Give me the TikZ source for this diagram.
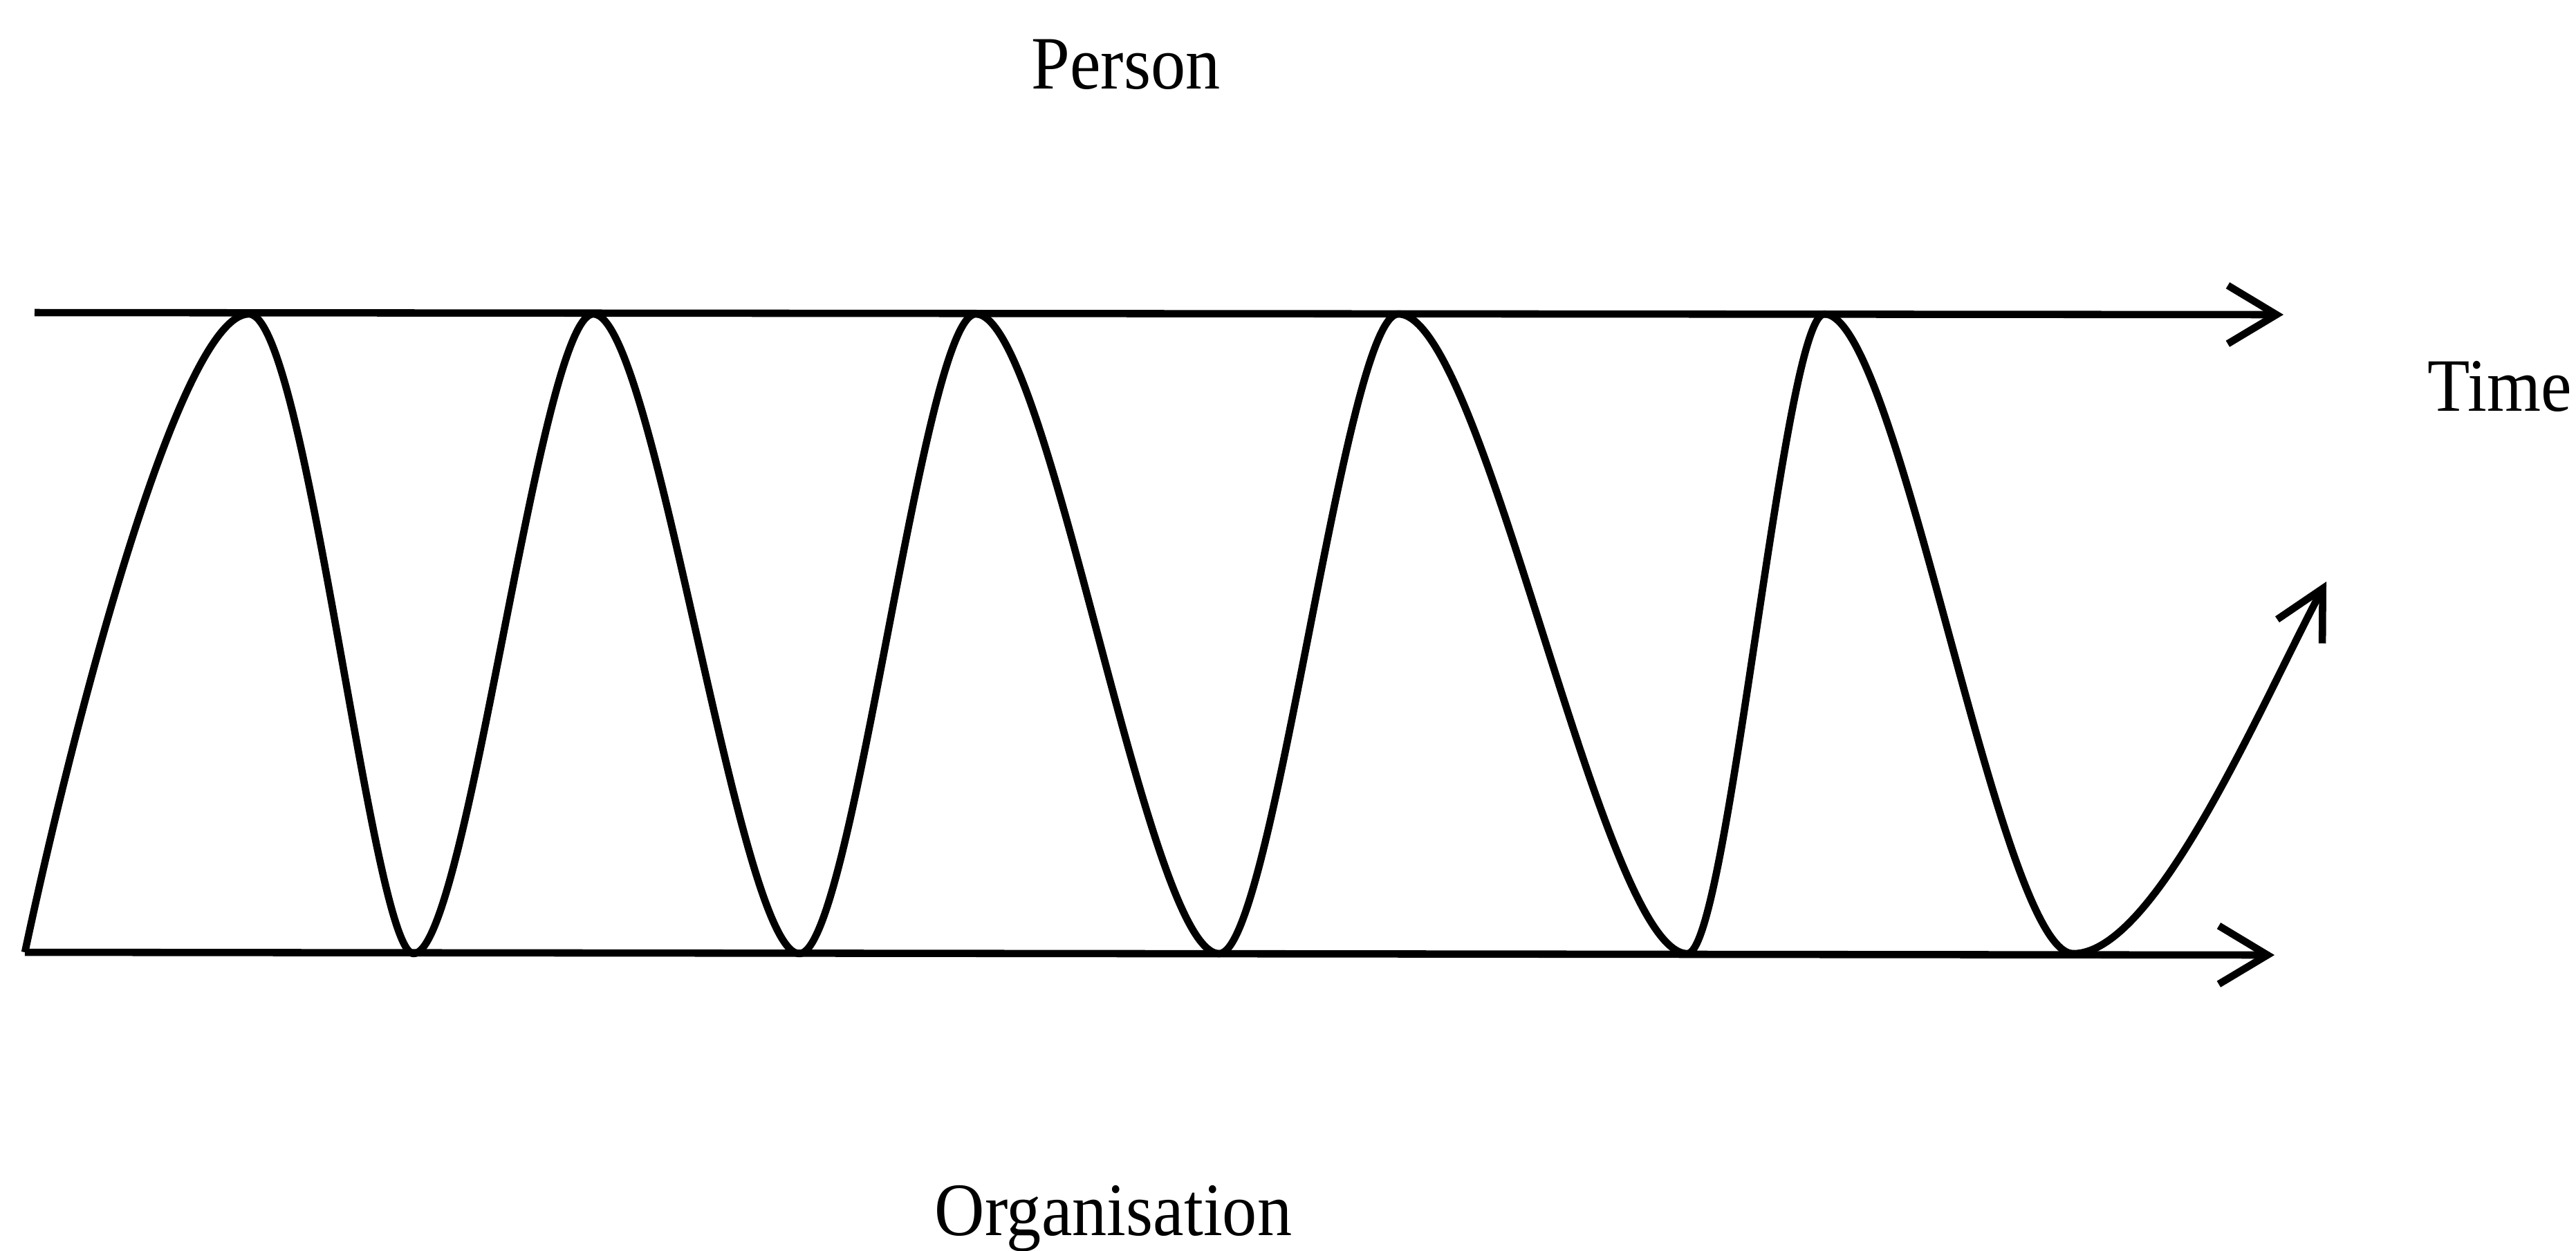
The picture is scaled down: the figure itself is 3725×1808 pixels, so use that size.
\documentclass[tikz,border=0pt]{standalone}
\usepackage{fontspec}
\setmainfont{Liberation Serif}
\newfontfamily\lblfont[FakeStretch=0.92]{Liberation Serif}
\usetikzlibrary{arrows.meta}
\begin{document}
\begin{tikzpicture}[x=0.01cm,y=-0.01cm,
  axisline/.style={line width=3pt,-{Straight Barb[length=20pt,width=24pt,line width=3pt]}},
  wave/.style={line width=3pt,line join=round},
  lbl/.style={inner sep=0pt,font=\lblfont\fontsize{31}{36}\selectfont}]
\useasboundingbox (0,0) rectangle (3725,1808);
% coordinates
\coordinate (tl) at (50,452);
\coordinate (tr) at (3302,455);
\coordinate (bl) at (36,1377);
\coordinate (br) at (3289,1381);
\coordinate (p1) at (360,454);
\coordinate (t1) at (598,1379);
\coordinate (p2) at (858,454);
\coordinate (t2) at (1156,1379);
\coordinate (p3) at (1411,454);
\coordinate (t3) at (1763,1379);
\coordinate (p4) at (2022,454);
\coordinate (t4) at (2440,1379);
\coordinate (p5) at (2638,454);
\coordinate (t5) at (2998,1379);
\coordinate (ce) at (3364,841);
% axes
\draw[axisline] (tl) -- (tr);
\draw[axisline] (bl) -- (br);
% wave
\draw[wave] (bl) .. controls +(70,-330) and +(-100,0) .. (p1)
  .. controls +(83,0) and +(-60,0) .. (t1)
  .. controls +(78,0) and +(-78,0) .. (p2)
  .. controls +(89,0) and +(-89,0) .. (t2)
  .. controls +(77,0) and +(-77,0) .. (p3)
  .. controls +(106,0) and +(-106,0) .. (t3)
  .. controls +(78,0) and +(-78,0) .. (p4)
  .. controls +(125,0) and +(-125,0) .. (t4)
  .. controls +(59,0) and +(-59,0) .. (p5)
  .. controls +(108,0) and +(-108,0) .. (t5);
\draw[wave,-{Straight Barb[length=20pt,width=21pt,line width=3pt]}] (t5) .. controls +(120,0) and +(-94,176) .. (ce);
% labels
\node[lbl,anchor=base] (person) at (1628,128) {Person};
\node[lbl,anchor=base west] (time) at (3510,594) {Time};
\node[lbl,anchor=base] (org) at (1610,1786) {Organisation};
\end{tikzpicture}
\end{document}
